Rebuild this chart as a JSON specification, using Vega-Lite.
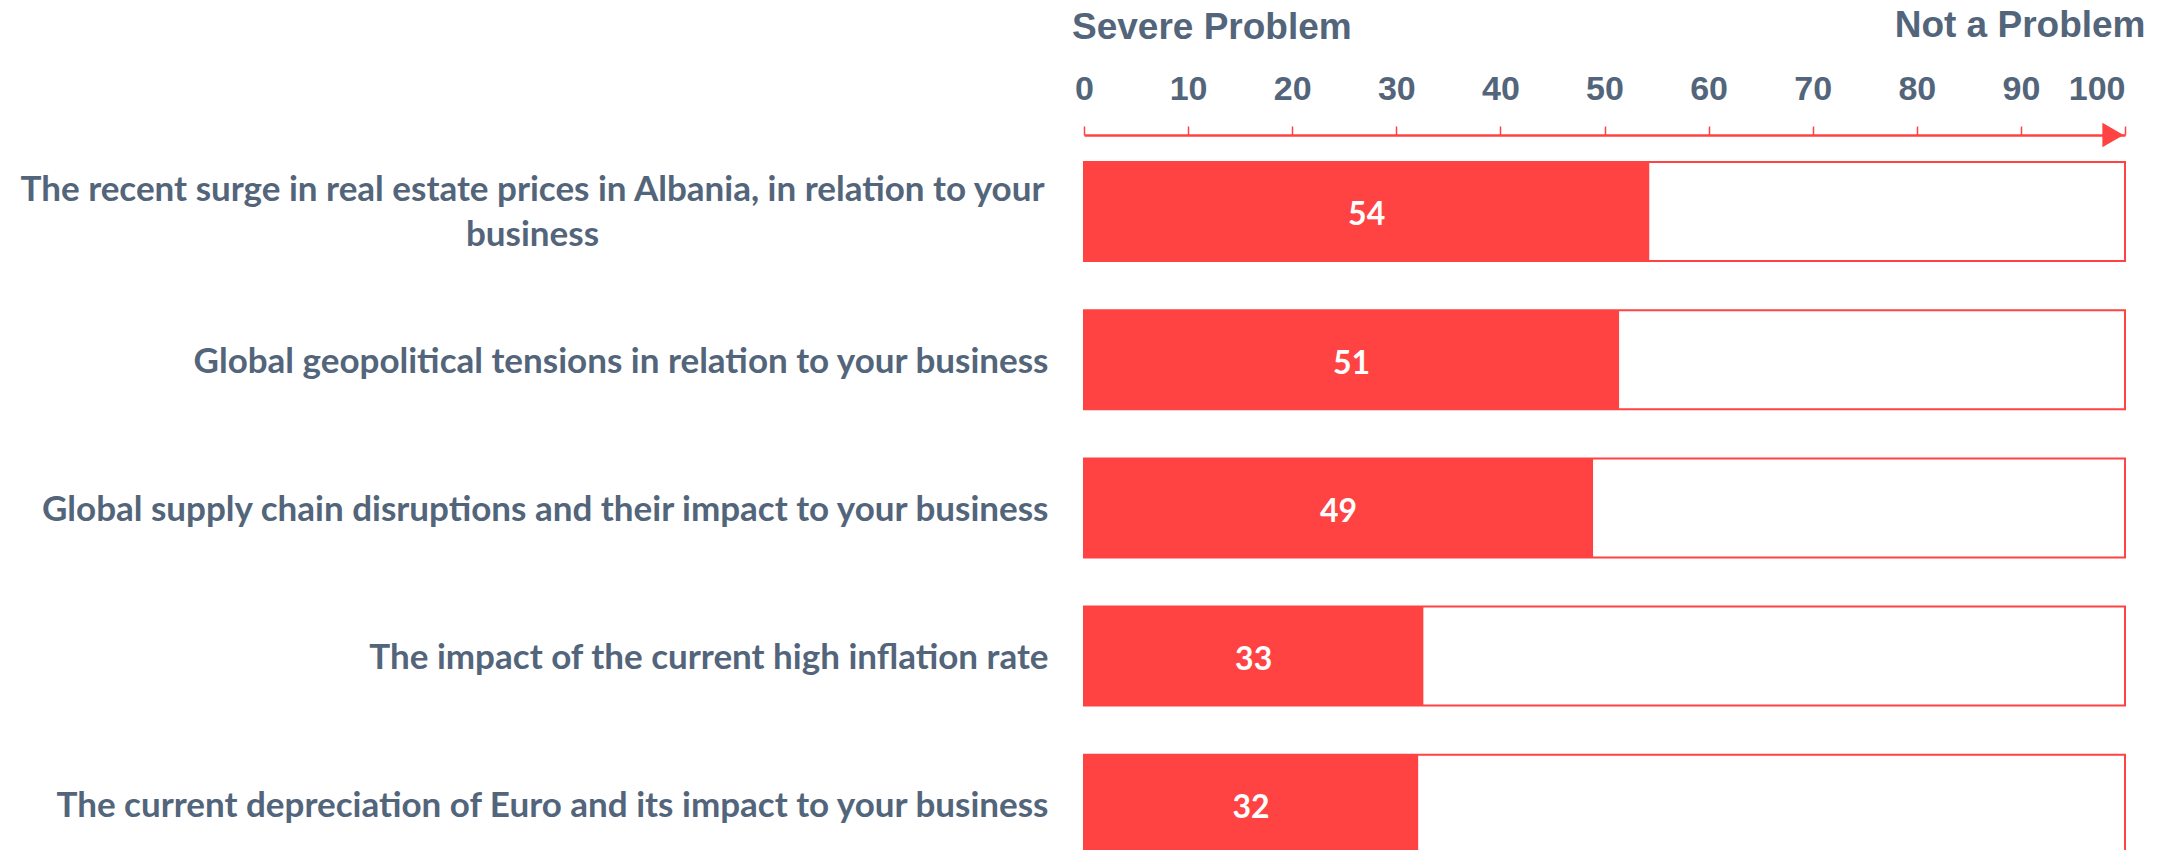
{
  "$schema": "https://vega.github.io/schema/vega-lite/v6.json",
  "width": 1041,
  "height": 715,
  "autosize": "none",
  "padding": {"left": 1084, "top": 135, "right": 32, "bottom": 0},
  "background": "white",
  "title": {
    "text": "Severe Problem",
    "anchor": "start",
    "frame": "group",
    "font": "Liberation Sans",
    "fontWeight": "bold",
    "fontSize": 37,
    "color": "#53657A",
    "offset": -41,
    "dx": -12
  },
  "config": {"view": {"stroke": null}},
  "data": {
    "values": [
      {"issue": "The recent surge in real estate prices in Albania, in relation to your business", "score": 54.3},
      {"issue": "Global geopolitical tensions in relation to your business", "score": 51.4},
      {"issue": "Global supply chain disruptions and their impact to your business", "score": 48.9},
      {"issue": "The impact of the current high inflation rate", "score": 32.6},
      {"issue": "The current depreciation of Euro and its impact to your business", "score": 32.1}
    ]
  },
  "encoding": {
    "y": {
      "field": "issue",
      "type": "nominal",
      "sort": null,
      "scale": {"range": [27, 718.8], "paddingInner": 0.332, "paddingOuter": 0},
      "axis": {
        "title": null,
        "domain": false,
        "ticks": false,
        "labelFont": "Lato",
        "labelFontWeight": "bold",
        "labelFontSize": 35,
        "labelColor": "#53657A",
        "labelLimit": 1200,
        "labelPadding": {"condition": {"test": "indexof(datum.value, 'Albania') >= 0", "value": 552}, "value": 36},
        "labelAlign": {"condition": {"test": "indexof(datum.value, 'Albania') >= 0", "value": "center"}, "value": "right"},
        "labelOffset": {"condition": {"test": "indexof(datum.value, 'Albania') >= 0", "value": -21}, "value": 2},
        "labelLineHeight": 45,
        "labelExpr": "indexof(datum.label, 'Albania') >= 0 ? ['The recent surge in real estate prices in Albania, in relation to your', 'business'] : datum.label"
      }
    }
  },
  "layer": [
    {
      "mark": {"type": "bar", "fill": "white", "stroke": "#FF4343", "strokeWidth": 2},
      "encoding": {
        "x": {
          "datum": 0,
          "type": "quantitative",
          "scale": {"domain": [0, 100], "nice": false},
          "axis": {
            "orient": "top",
            "values": [0, 10, 20, 30, 40, 50, 60, 70, 80, 90, 100],
            "grid": false,
            "domainColor": "#FF4343",
            "domainWidth": 2.5,
            "tickColor": "#FF4343",
            "tickWidth": 1.5,
            "tickSize": 9,
            "labelFont": "Liberation Sans",
            "labelFontWeight": "bold",
            "labelFontSize": 34,
            "labelColor": "#53657A",
            "labelPadding": 20,
            "labelFlush": false,
            "labelAlign": {"condition": {"test": "datum.value == 100", "value": "right"}, "value": "center"},
            "title": "Not a Problem",
            "titleFont": "Liberation Sans",
            "titleFontWeight": "bold",
            "titleFontSize": 37,
            "titleColor": "#53657A",
            "titleAnchor": "end",
            "titleAlign": "right",
            "titleX": 1061,
            "titlePadding": 28
          }
        },
        "x2": {"datum": 100}
      }
    },
    {
      "mark": {"type": "bar", "fill": "#FF4343"},
      "encoding": {
        "x": {"field": "score", "type": "quantitative", "scale": {"domain": [0, 100], "nice": false}, "axis": null}
      }
    },
    {
      "mark": {"type": "text", "color": "white", "font": "Lato", "fontWeight": "bold", "fontSize": 32, "align": "center", "baseline": "middle", "dy": 4},
      "encoding": {
        "x": {"field": "score", "type": "quantitative", "scale": {"domain": [0, 200], "nice": false}, "axis": null},
        "text": {"field": "score", "type": "quantitative", "format": ".0f"}
      }
    },
    {
      "data": {"values": [{"end": 100}]},
      "mark": {"type": "point", "shape": "triangle-right", "filled": true, "color": "#FF4343", "opacity": 1, "size": 600, "xOffset": -12},
      "encoding": {
        "x": {"field": "end", "type": "quantitative", "scale": {"domain": [0, 100], "nice": false}, "axis": null},
        "y": {"value": 0}
      }
    }
  ],
  "resolve": {"scale": {"x": "independent"}, "axis": {"x": "independent"}}
}
